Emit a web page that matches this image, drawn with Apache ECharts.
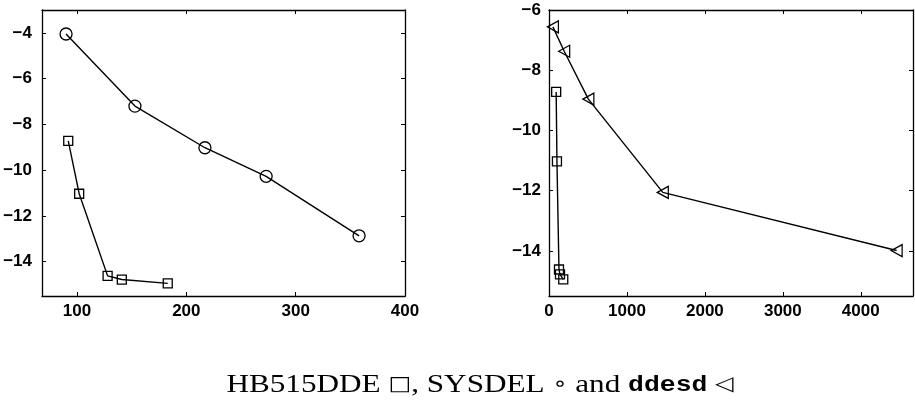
<!DOCTYPE html>
<html>
<head>
<meta charset="utf-8">
<script src="https://cdn.jsdelivr.net/npm/echarts@6/dist/echarts.min.js"></script>
<style>
  html, body { margin: 0; padding: 0; background: #fff; }
  #chart { width: 915px; height: 406px; }
</style>
</head>
<body>
<div id="chart"></div>
<script>
// HB515DDE (squares): size vs. log error
const hbX = [92, 102, 128, 141, 183];
const hbY = [-8.72, -11.03, -14.62, -14.78, -14.95];
// SYSDEL (circles)
const sysX = [90, 153, 217, 273, 358];
const sysY = [-4.05, -7.2, -9.02, -10.27, -12.87];
// ddesd (left-pointing triangles)
const ddX = [50, 195, 505, 1460, 4460];
const ddY = [-6.56, -7.37, -8.96, -12.06, -13.99];

// Tick labels
const leftXTicks = [100, 200, 300, 400];
const leftYTicks = [-14, -12, -10, -8, -6, -4];
const rightXTicks = [0, 1000, 2000, 3000, 4000];
const rightYTicks = [-14, -12, -10, -8, -6];

const pairs = (xs, ys) => xs.map((x, i) => [x, ys[i]]);
const minusFmt = v => String(v).replace('-', '\u2212');

const labelFont = {
  fontFamily: 'Liberation Sans',
  fontSize: 17,
  fontWeight: 'bold',
  color: '#000'
};

function valueAxis(opts) {
  const show = opts.labels !== false;
  return {
    type: 'value',
    gridIndex: opts.grid,
    position: opts.position,
    min: opts.min,
    max: opts.max,
    scale: true,
    splitLine: { show: false },
    axisLine: { show: true, onZero: false, lineStyle: { color: '#000', width: 1.3 } },
    axisTick: {
      show: true, inside: true, length: 4,
      customValues: opts.ticks,
      lineStyle: { color: '#000', width: 1 }
    },
    axisLabel: Object.assign({
      show: show,
      customValues: opts.ticks,
      margin: opts.margin,
      formatter: minusFmt
    }, labelFont)
  };
}

const lineStyle = { color: '#000', width: 1.4 };
const hollow = { color: 'rgba(0,0,0,0)', borderColor: '#000', borderWidth: 1.3 };

const option = {
  backgroundColor: '#fff',
  animation: false,
  grid: [
    { left: 42, top: 10, width: 363, height: 286, outerBoundsMode: 'none' },
    { left: 549, top: 10, width: 364, height: 286, outerBoundsMode: 'none' }
  ],
  xAxis: [
    valueAxis({ grid: 0, position: 'bottom', min: 68, max: 400, ticks: leftXTicks, margin: 7 }),
    valueAxis({ grid: 0, position: 'top', min: 68, max: 400, ticks: leftXTicks, labels: false }),
    valueAxis({ grid: 1, position: 'bottom', min: 0, max: 4670, ticks: rightXTicks, margin: 7 }),
    valueAxis({ grid: 1, position: 'top', min: 0, max: 4670, ticks: rightXTicks, labels: false })
  ],
  yAxis: [
    valueAxis({ grid: 0, position: 'left', min: -15.5, max: -3, ticks: leftYTicks, margin: 10 }),
    valueAxis({ grid: 0, position: 'right', min: -15.5, max: -3, ticks: leftYTicks, labels: false }),
    valueAxis({ grid: 1, position: 'left', min: -15.5, max: -6, ticks: rightYTicks, margin: 8 }),
    valueAxis({ grid: 1, position: 'right', min: -15.5, max: -6, ticks: rightYTicks, labels: false })
  ],
  series: [
    {
      name: 'SYSDEL', type: 'line', xAxisIndex: 0, yAxisIndex: 0,
      data: pairs(sysX, sysY),
      symbol: 'circle', symbolSize: 12,
      lineStyle: lineStyle, itemStyle: hollow
    },
    {
      name: 'HB515DDE', type: 'line', xAxisIndex: 0, yAxisIndex: 0,
      data: pairs(hbX, hbY),
      symbol: 'rect', symbolSize: 9,
      lineStyle: lineStyle, itemStyle: hollow
    },
    {
      name: 'ddesd', type: 'line', xAxisIndex: 2, yAxisIndex: 2,
      data: pairs(ddX, ddY),
      symbol: 'triangle', symbolSize: [12, 11], symbolRotate: 90,
      lineStyle: lineStyle, itemStyle: hollow
    },
    {
      name: 'HB515DDE', type: 'line', xAxisIndex: 2, yAxisIndex: 2,
      data: pairs(hbX, hbY),
      symbol: 'rect', symbolSize: 9,
      lineStyle: lineStyle, itemStyle: hollow
    }
  ],
  graphic: [
    {
      type: 'text',
      x: 480, y: 385,
      scaleX: 1.2,
      style: {
        text: '{a|HB515DDE }{s|\u25A1}{a|, SYSDEL }{c|\u2218}{a| and }{m|ddesd}{a| }{t|\u25C1}',
        align: 'center',
        verticalAlign: 'middle',
        rich: {
          a: { fontFamily: 'Liberation Serif', fontSize: 26, fill: '#000' },
          s: { fontFamily: 'DejaVu Sans', fontSize: 20, fill: '#000' },
          c: { fontFamily: 'DejaVu Sans', fontSize: 20, fill: '#000' },
          m: { fontFamily: 'Liberation Mono', fontSize: 22, fontWeight: 'bold', fill: '#000' },
          t: { fontFamily: 'DejaVu Sans', fontSize: 20, fill: '#000' }
        }
      }
    }
  ]
};

const chart = echarts.init(document.getElementById('chart'), null, { renderer: 'canvas' });
chart.setOption(option);
</script>
</body>
</html>
